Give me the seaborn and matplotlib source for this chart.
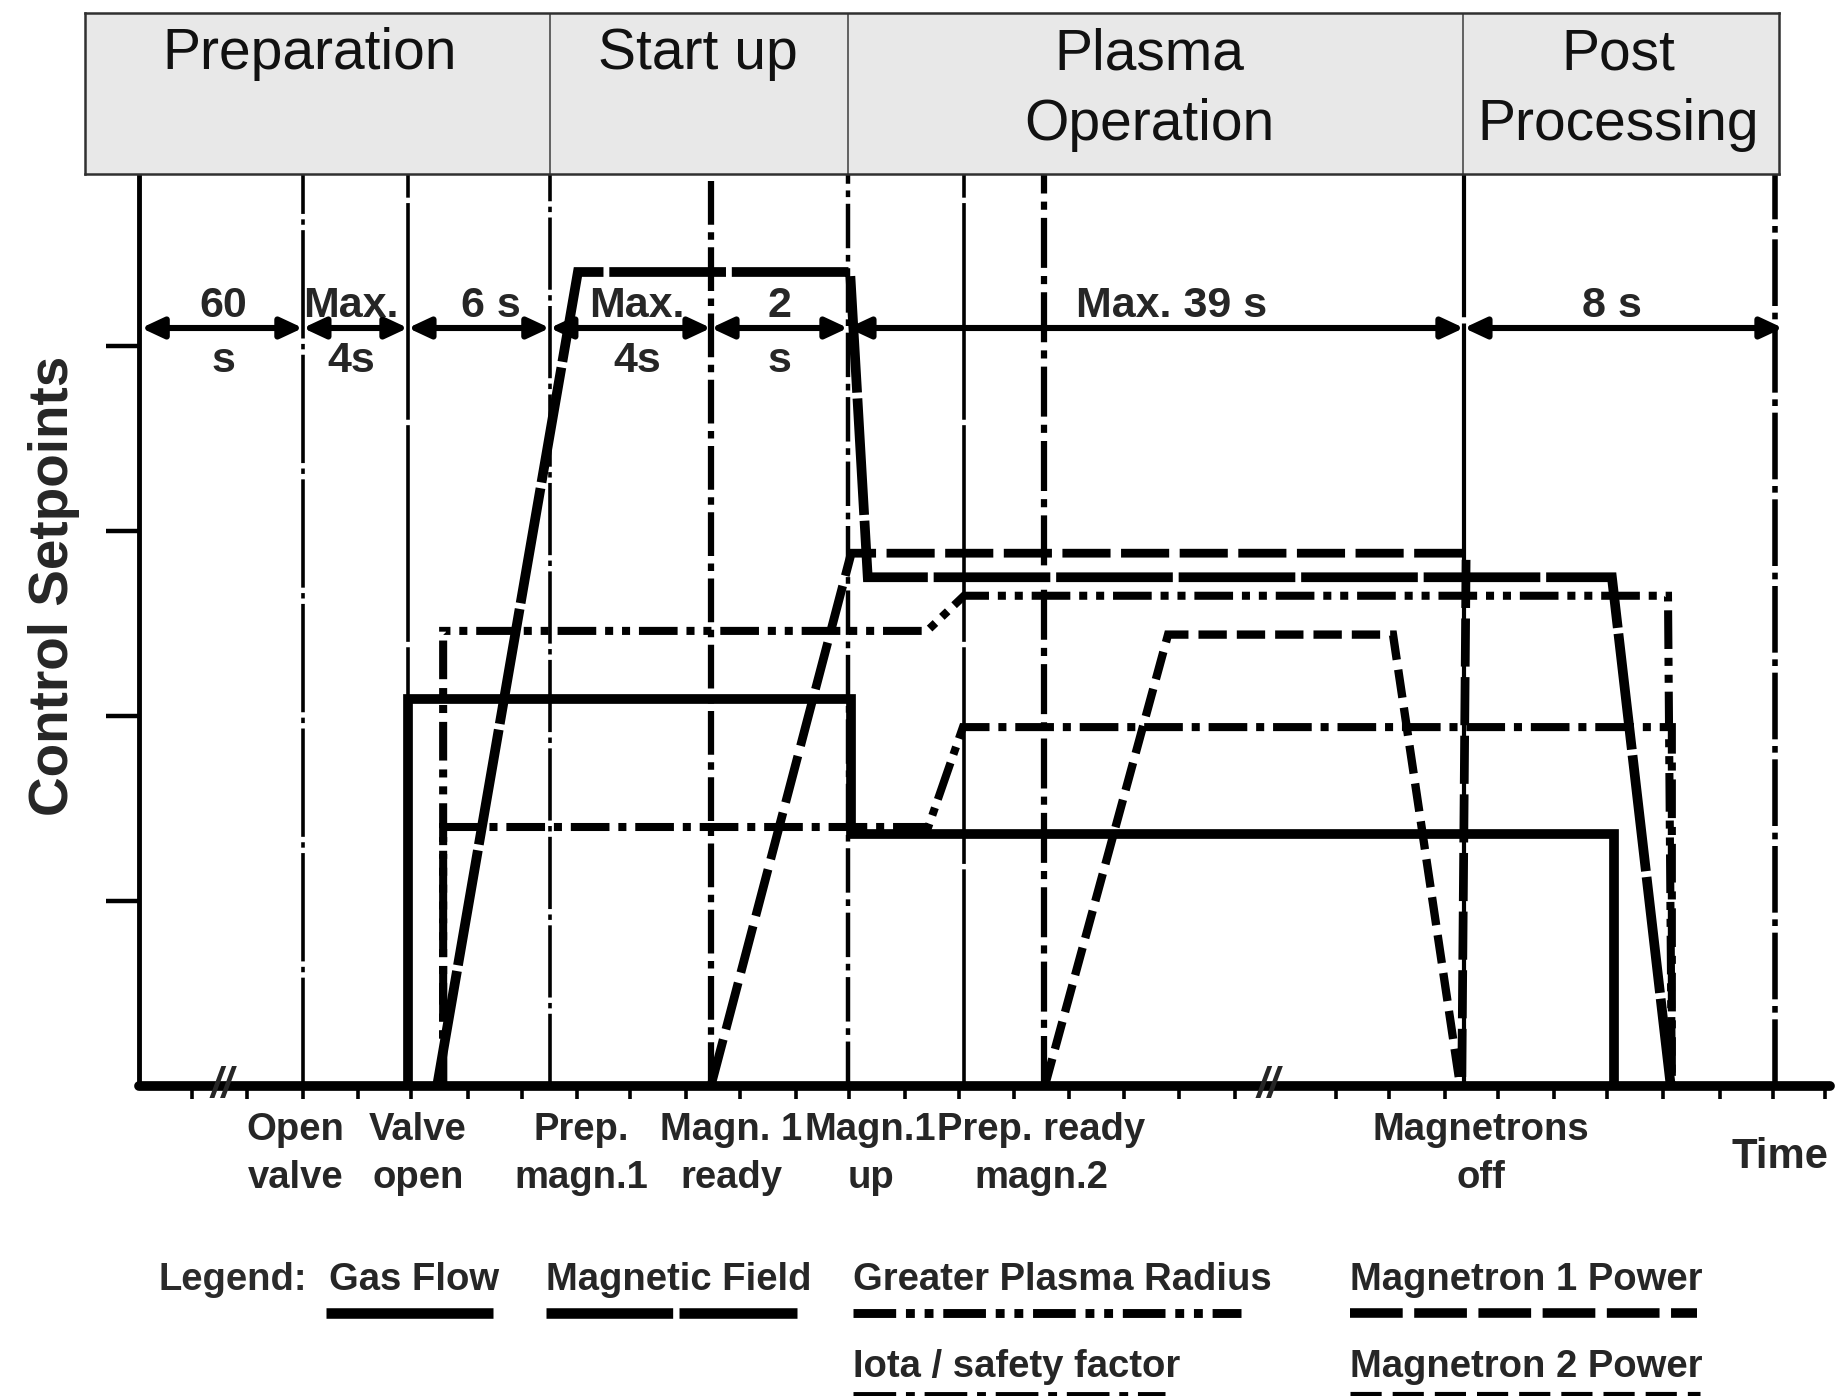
import numpy as np
import pandas as pd
import matplotlib
matplotlib.use("Agg")
import matplotlib.pyplot as plt
import seaborn as sns
from matplotlib import font_manager as fm

# ---------------- data (time in axis-tick units, setpoints in y-tick units) -------------
phase_names = ["Preparation", "Start up", "Plasma\nOperation", "Post\nProcessing"]
phase_bounds = [-0.982, 7.47, 12.89, 24.07, 29.818]
phase_centers = [3.10, 10.17, 18.37, 26.89]

event_times = [2.98, 4.89, 7.47, 10.40, 12.89, 15.00, 16.45, 24.09, 29.75]

dim_bounds = [0.04, 2.98, 4.89, 7.47, 10.40, 12.89, 24.09, 29.89]
dim_labels = ["60\ns", "Max.\n4s", "6 s", "Max.\n4s", "2\ns", "Max. 39 s", "8 s"]
dim_centers = [1.53, 3.85, 6.40, 9.05, 11.64, 18.78, 26.78]

gas_t = [4.89, 4.89, 12.95, 12.95, 26.82, 26.82]
gas_v = [0.0, 2.09, 2.09, 1.36, 1.36, 0.0]
mag_t = [5.42, 7.98, 12.93, 13.25, 26.78, 27.85]
mag_v = [0.0, 4.40, 4.40, 2.75, 2.75, 0.0]
gpr_t = [5.53, 5.53, 14.33, 15.00, 27.80, 27.87]
gpr_v = [0.0, 2.46, 2.46, 2.65, 2.65, 0.0]
iota_t = [5.53, 5.53, 14.35, 14.98, 27.87, 27.87]
iota_v = [0.0, 1.40, 1.40, 1.94, 1.94, 0.0]
m1_t = [10.40, 12.95, 24.13, 24.05]
m1_v = [0.0, 2.88, 2.88, 0.0]
m2_t = [16.47, 18.71, 22.80, 24.02]
m2_v = [0.0, 2.44, 2.44, 0.0]

tick_t = [0.97, 1.97, 2.98, 3.98, 4.95, 5.98, 6.96, 7.96, 8.93, 9.95, 10.93, 11.95,
          12.91, 13.93, 14.91, 15.91, 16.91, 17.91, 18.91, 19.93, 21.76, 22.73,
          23.75, 24.71, 25.73, 26.69, 27.71, 28.75, 29.71, 30.65]
ytick_v = [1, 2, 3, 4]

event_labels = ["Open\nvalve", "Valve\nopen", "Prep.\nmagn.1", "Magn. 1\nready",
                "Magn.1\nup", "Prep. ready\nmagn.2", "Magnetrons\noff"]
event_label_t = [2.85, 5.07, 8.04, 10.77, 13.30, 16.40, 24.40]

series_names = ["Gas Flow", "Magnetic Field", "Greater Plasma Radius",
                "Magnetron 1 Power", "Iota / safety factor", "Magnetron 2 Power"]
series_data = {
    "Gas Flow": (gas_t, gas_v),
    "Magnetic Field": (mag_t, mag_v),
    "Greater Plasma Radius": (gpr_t, gpr_v),
    "Magnetron 1 Power": (m1_t, m1_v),
    "Iota / safety factor": (iota_t, iota_v),
    "Magnetron 2 Power": (m2_t, m2_v),
}

# ---------------- styles ----------------
dash_map = {
    "Gas Flow": "",
    "Magnetic Field": (12, 0.6),
    "Greater Plasma Radius": (4.8, 1.1, 1.0, 1.1, 1.0, 1.1),
    "Magnetron 1 Power": (5.5, 1.2),
    "Iota / safety factor": (4.8, 1.1, 1.0, 1.1),
    "Magnetron 2 Power": (3.4, 1.2),
}
size_map = {
    "Gas Flow": 7.0,
    "Magnetic Field": 7.0,
    "Greater Plasma Radius": 5.8,
    "Magnetron 1 Power": 6.3,
    "Iota / safety factor": 5.8,
    "Magnetron 2 Power": 6.0,
}
vline_styles = [  # (linewidth, dashes)
    (2.6, (30, 1.5, 1.5, 1.5)),
    (2.6, (60, 1.5)),
    (2.6, (20, 1.5, 1.5, 1.5)),
    (4.5, (7, 1.2, 1.2, 1.2)),
    (3.2, (10, 1.5, 1.5, 1.5)),
    (2.6, (60, 1.5)),
    (4.5, (8, 1.3, 1.3, 1.3)),
    (3.0, (60, 1.5)),
    (4.0, (12, 1.2, 1.2, 1.2)),
]

sns.set_theme(style="white")
avail = {f.name for f in fm.fontManager.ttflist}
if "Liberation Sans Narrow" in avail:
    NARROW = ["Liberation Sans Narrow", "DejaVu Sans"]
    ns = 1.0
else:
    NARROW = ["Liberation Sans", "DejaVu Sans"]
    ns = 0.86
REG = ["Liberation Sans", "DejaVu Sans"]
plt.rcParams["font.family"] = REG

W, H = 1839, 1396
fig = plt.figure(figsize=(W / 100, H / 100), dpi=100)
fig.patch.set_facecolor("white")

# ---------------- main axes ----------------
ax = fig.add_axes([139 / W, (H - 1086) / H, (1830 - 139) / W, (1086 - 174) / H])
ax.set_facecolor("white")
ax.set_xlim(0, (1830 - 139) / 55)
ax.set_ylim(0, (1086 - 174) / 185)

for i, t in enumerate(event_times):
    lw, d = vline_styles[i]
    ln = ax.axvline(t, color="black", lw=lw, zorder=1)
    ln.set_dashes(d)
    ln.set_dash_capstyle("butt")

rows = []
for name in series_names:
    ts, vs = series_data[name]
    for k, (t, v) in enumerate(zip(ts, vs)):
        rows.append({"t": t, "v": v, "series": name, "k": k})
df = pd.DataFrame(rows)

sns.lineplot(data=df, x="t", y="v", hue="series", style="series", size="series",
             hue_order=series_names, style_order=series_names, size_order=series_names,
             palette={n: "black" for n in series_names}, dashes=dash_map, sizes=size_map,
             sort=False, estimator=None, legend=False, ax=ax, zorder=3)
for ln in ax.lines[len(event_times):]:
    ln.set_dash_capstyle("butt")
    ln.set_solid_joinstyle("miter")
    ln.set_dash_joinstyle("miter")
    ln.set_solid_capstyle("butt")
    ln.set_zorder(3)

ax.set_xlabel("")
ax.set_ylabel("")
for s in ["top", "right"]:
    ax.spines[s].set_visible(False)
ax.spines["left"].set_linewidth(3.5)
ax.spines["left"].set_color("black")
ax.spines["bottom"].set_linewidth(7)
ax.spines["bottom"].set_color("black")
ax.spines["bottom"].set_capstyle("round")
ax.set_xticks(tick_t)
ax.set_yticks(ytick_v)
ax.set_xticklabels([])
ax.set_yticklabels([])
ax.tick_params(axis="x", direction="out", length=9, width=2.6, color="black", bottom=True)
ax.tick_params(axis="y", direction="out", length=24, width=3.2, color="black", left=True)

# dimension arrows and labels
y_arrow = (1086 - 328) / 185
for i in range(len(dim_bounds) - 1):
    ax.annotate("", xy=(dim_bounds[i + 1], y_arrow), xytext=(dim_bounds[i], y_arrow),
                arrowprops=dict(arrowstyle="<|-|>,head_length=0.6,head_width=0.28",
                                lw=4.4, color="black", shrinkA=0, shrinkB=0,
                                mutation_scale=22),
                zorder=4)
y_d1 = (1086 - 317) / 185
y_d2 = (1086 - 372) / 185
for lab, c in zip(dim_labels, dim_centers):
    parts = lab.split("\n")
    ax.text(c, y_d1, parts[0], ha="center", va="baseline", family=NARROW,
            fontweight="bold", fontsize=36 * ns, zorder=5)
    if len(parts) > 1:
        ax.text(c, y_d2, parts[1], ha="center", va="baseline", family=NARROW,
                fontweight="bold", fontsize=36 * ns, zorder=5)

# break marks on the time axis
for bt in [1.51, 20.53]:
    ax.text(bt, 0.0, "//", ha="center", va="center", fontsize=30, fontweight="bold",
            style="italic", family=REG, clip_on=False, zorder=6)

# event labels below axis
y_e1 = (1086 - 1140) / 185
y_e2 = (1086 - 1188) / 185
for lab, c in zip(event_labels, event_label_t):
    p = lab.split("\n")
    ax.text(c, y_e1, p[0], ha="center", va="baseline", family=NARROW,
            fontweight="bold", fontsize=32 * ns, clip_on=False)
    ax.text(c, y_e2, p[1], ha="center", va="baseline", family=NARROW,
            fontweight="bold", fontsize=32 * ns, clip_on=False)
ax.text((1780 - 139) / 55, (1086 - 1168) / 185, "Time", ha="center", va="baseline",
        family=NARROW, fontweight="bold", fontsize=35 * ns, clip_on=False)

# y label
ax.text((54 - 139) / 55, (1086 - 586) / 185, "Control Setpoints", rotation=90,
        ha="center", va="center", family=NARROW, fontweight="bold",
        fontsize=46 * ns, clip_on=False)

# legend (text above line sample)
leg_layout = {  # name: (text_x, line_x0, line_x1, row)
    "Gas Flow": (3.45, 3.40, 6.44, 0),
    "Magnetic Field": (7.40, 7.40, 11.96, 0),
    "Greater Plasma Radius": (12.98, 12.98, 20.04, 0),
    "Magnetron 1 Power": (22.02, 22.02, 28.33, 0),
    "Iota / safety factor": (12.98, 12.98, 18.65, 1),
    "Magnetron 2 Power": (22.02, 22.02, 28.38, 1),
}
row_text_y = [(1086 - 1290) / 185, (1086 - 1377) / 185]
row_line_y = [(1086 - 1313) / 185, (1086 - 1396) / 185]
ax.text(0.35, row_text_y[0], "Legend:", ha="left", va="baseline", family=NARROW,
        fontweight="bold", fontsize=32 * ns, color="#2b2b2b", clip_on=False)
for name in series_names:
    tx, x0, x1, r = leg_layout[name]
    ax.text(tx, row_text_y[r], name, ha="left", va="baseline", family=NARROW,
            fontweight="bold", fontsize=32 * ns, clip_on=False)
    ln, = ax.plot([x0, x1], [row_line_y[r], row_line_y[r]], color="black",
                  lw=size_map[name] + 0.6, clip_on=False, solid_capstyle="butt")
    if dash_map[name]:
        ln.set_dashes(dash_map[name])
        ln.set_dash_capstyle("butt")

# ---------------- header with phases ----------------
hdr = fig.add_axes([85 / W, (H - 174) / H, (1779 - 85) / W, (174 - 13) / H])
hdr.set_facecolor("#e8e8e8")
hdr.set_xlim(phase_bounds[0], phase_bounds[-1])
hdr.set_ylim(0, 1)
hdr.set_xticks([])
hdr.set_yticks([])
for s in hdr.spines.values():
    s.set_color("#303030")
    s.set_linewidth(1.8)
for b in phase_bounds[1:-1]:
    hdr.axvline(b, color="#4a4a4a", lw=1.2)
y_h1 = (174 - 69) / 161
y_h2 = (174 - 140) / 161
for name, c in zip(phase_names, phase_centers):
    p = name.split("\n")
    hdr.text(c, y_h1, p[0], ha="center", va="baseline", fontsize=41, family=REG,
             color="#111111")
    if len(p) > 1:
        hdr.text(c, y_h2, p[1], ha="center", va="baseline", fontsize=41, family=REG,
                 color="#111111")

fig.savefig("out.png", dpi=100, facecolor="white")
